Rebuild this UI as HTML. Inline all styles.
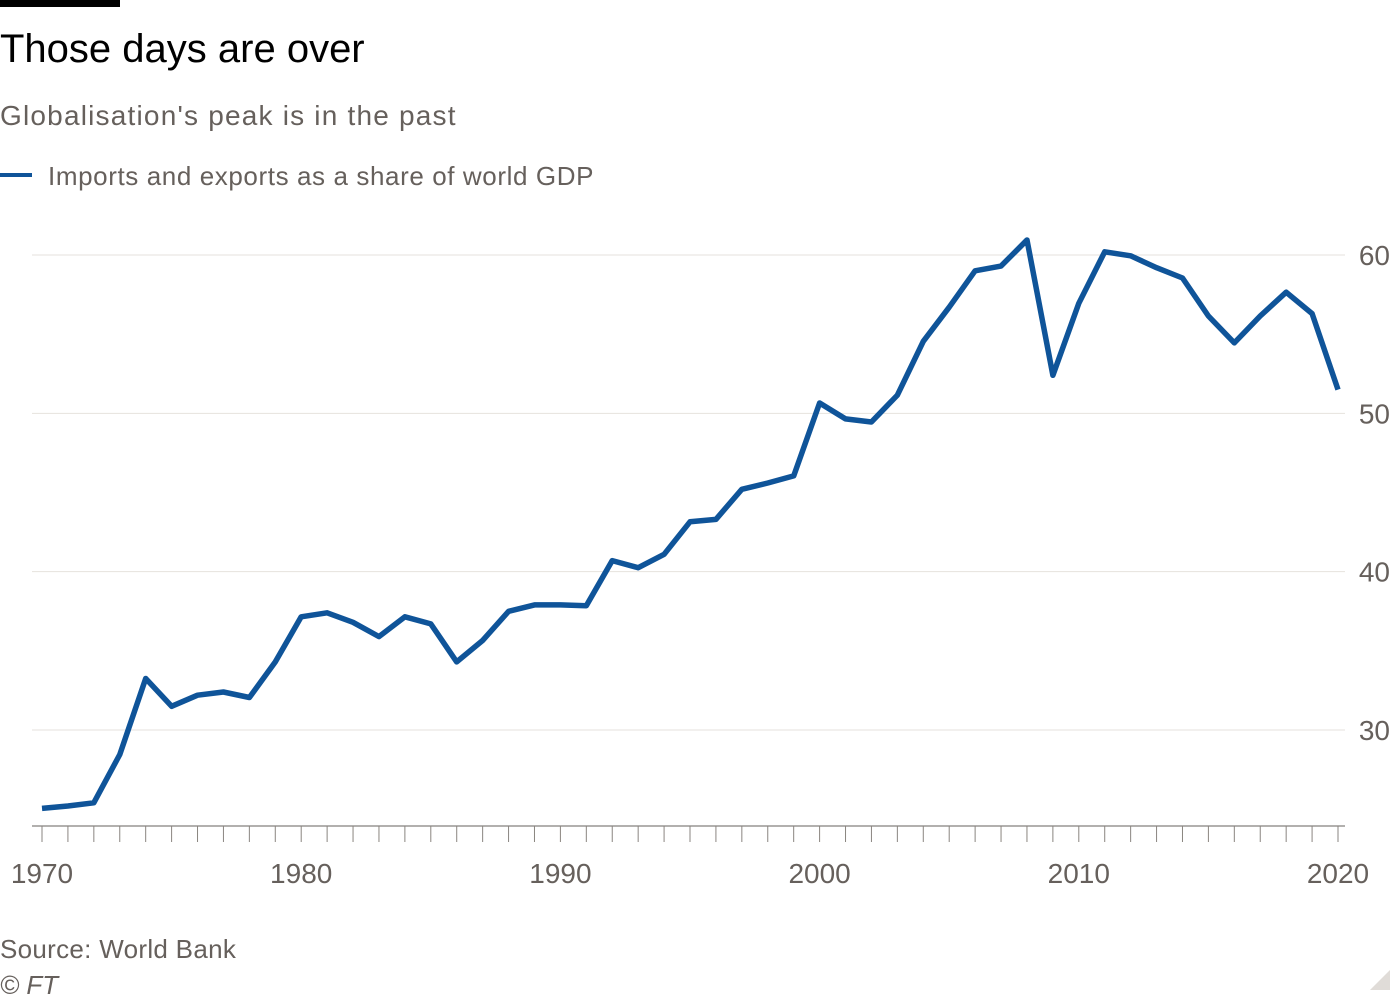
<!DOCTYPE html>
<html><head><meta charset="utf-8"><style>
body{margin:0;background:#fff;width:1400px;height:1000px;overflow:hidden;font-family:"Liberation Sans",sans-serif;}
svg{position:absolute;left:0;top:0}
</style></head><body>
<svg width="1400" height="1000">
<rect x="0" y="0" width="120" height="7" fill="#000"/>
<text x="0" y="62" font-size="40" fill="#000">Those days are over</text>
<text x="0" y="125" font-size="28" letter-spacing="1.2" fill="#66605c">Globalisation's peak is in the past</text>
<line x1="0" y1="175" x2="32" y2="175" stroke="#0f5499" stroke-width="4"/>
<text x="48" y="185" font-size="26" letter-spacing="0.6" fill="#66605c">Imports and exports as a share of world GDP</text>
<g id="grid"></g><g id="xaxis"></g>
<path id="line" fill="none" stroke="#0f5499" stroke-width="5.5" stroke-linejoin="round"/>
<text x="0" y="958" font-size="26" letter-spacing="0.3" fill="#66605c">Source: World Bank</text>
<text x="0" y="994" font-size="26" fill="#66605c" font-style="italic">© FT</text>
<polygon points="1390,970 1390,990 1370,990" fill="#e0dcd8"/>
</svg>
<script>
const years=[];for(let y=1970;y<=2020;y++)years.push(y);
const values=[25.05,25.2,25.4,28.45,33.25,31.5,32.2,32.4,32.05,34.3,37.15,37.4,36.8,35.9,37.15,36.7,34.3,35.65,37.5,37.9,37.9,37.85,40.7,40.25,41.1,43.15,43.3,45.2,45.6,46.05,50.65,49.65,49.45,51.15,54.55,56.7,59.0,59.3,60.95,52.4,56.95,60.2,59.95,59.2,58.55,56.15,54.45,56.15,57.65,56.3,51.5];
const yTicks=[30,40,50,60];
const xTicks=[1970,1980,1990,2000,2010,2020];
const NS="http://www.w3.org/2000/svg";
const xs=y=>42+(y-1970)*(1338-42)/50;
const ys=v=>255+(60-v)*(730-255)/30;
const grid=document.getElementById('grid'),xa=document.getElementById('xaxis');
function mk(tag,attrs,parent,txt){const e=document.createElementNS(NS,tag);for(const k in attrs)e.setAttribute(k,attrs[k]);if(txt!==undefined)e.textContent=txt;parent.appendChild(e);return e;}
yTicks.forEach(v=>{
 const l=mk('line',{x1:32,x2:1345,y1:ys(v),y2:ys(v),stroke:'#e6e2dd','stroke-width':1},grid);
 
 
 const t=mk('text',{x:1390,y:ys(v)+10,'font-size':28,fill:'#66605c','text-anchor':'end'},grid,String(v));
 
 
});
const ax=mk('line',{x1:32,x2:1345,y1:826,y2:826,stroke:'#66605c','stroke-width':1},xa);


years.forEach(y=>{
 const t=mk('line',{x1:xs(y),x2:xs(y),y1:826,y2:842,stroke:'#8a8580','stroke-width':1},xa);
 
 
});
xTicks.forEach(y=>{
 const t=mk('text',{x:xs(y),y:883,'font-size':28,fill:'#66605c','text-anchor':'middle'},xa,String(y));
 
 
});
document.getElementById('line').setAttribute('d',values.map((v,i)=>(i?'L':'M')+xs(years[i]).toFixed(1)+','+ys(v).toFixed(1)).join(''));
</script>
</body></html>
